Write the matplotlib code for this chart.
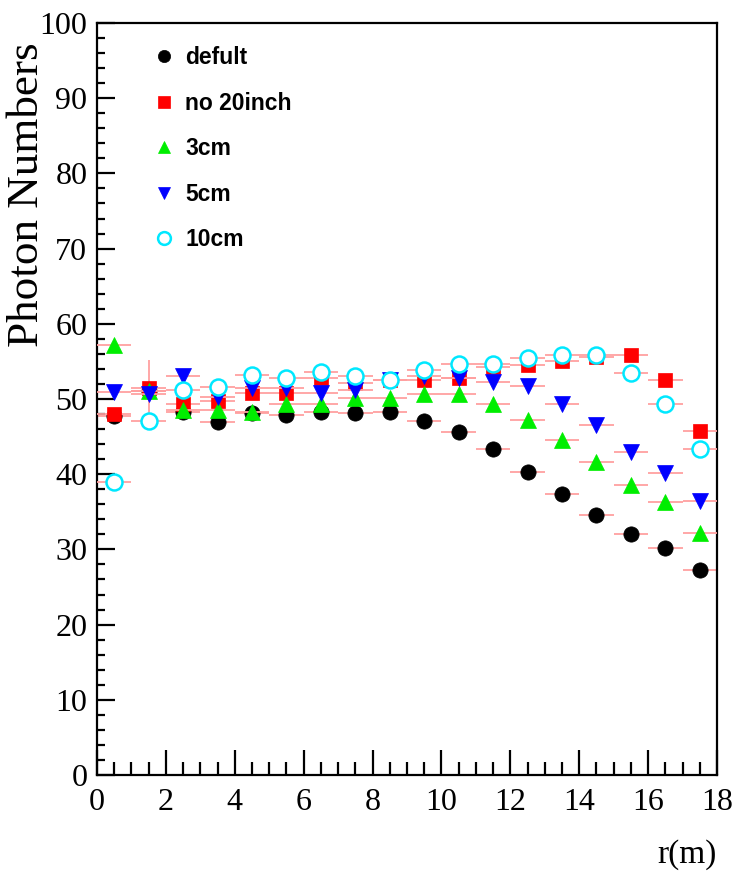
import numpy as np
import matplotlib
matplotlib.use("Agg")
import matplotlib.pyplot as plt
from matplotlib.ticker import MultipleLocator

# radius bins (m)
r = np.arange(0.5, 18, 1.0)
r_err = 0.5

labels = ["defult", "no 20inch", "3cm", "5cm", "10cm"]

defult   = [47.7, 51.0, 48.3, 47.0, 48.2, 47.9, 48.3, 48.1, 48.3, 47.1, 45.6, 43.4, 40.3, 37.4, 34.6, 32.1, 30.2, 27.2]
no20inch = [48.0, 51.4, 49.4, 49.7, 50.8, 50.8, 52.8, 52.1, 52.5, 52.5, 52.8, 54.3, 54.5, 55.0, 55.6, 55.8, 52.5, 45.7]
cm3      = [57.2, 51.0, 48.6, 48.6, 48.3, 49.4, 49.4, 50.1, 50.1, 50.6, 50.6, 49.4, 47.2, 44.5, 41.6, 38.5, 36.3, 32.2]
cm5      = [50.9, 50.6, 53.0, 50.3, 51.4, 51.4, 50.8, 51.2, 52.5, 53.0, 52.8, 52.2, 51.7, 49.3, 46.6, 42.9, 40.2, 36.4]
cm10     = [39.0, 47.1, 51.2, 51.6, 53.2, 52.8, 53.6, 53.0, 52.5, 53.9, 54.7, 54.7, 55.5, 55.8, 55.9, 53.4, 49.4, 43.4]

# vertical errors (only one is big enough to show)
defult_err = [0, 4.2, 0, 0, 0, 0, 0, 0, 0, 0, 0, 0, 0, 0, 0, 0, 0, 0]

series = [defult, no20inch, cm3, cm5, cm10]
yerrs = [defult_err, None, None, None, None]
colors = ["black", "#ff0000", "#00ee00", "#0000ff", "#00e8ff"]
markers = ["o", "s", "^", "v", "o"]
msizes = [11, 10, 11, 11, 11.5]
filled = [True, True, True, True, False]

fig = plt.figure(figsize=(7.35, 8.74), dpi=100)
ax = fig.add_axes([97/735, 1-775/874, 620/735, 752/874])

handles = []
for i in range(len(series)):
    ax.errorbar(r, series[i], xerr=r_err, yerr=yerrs[i], fmt="none",
                ecolor="#ffa0a0", elinewidth=1.3, capsize=0, zorder=2+2*i)
    h, = ax.plot(r, series[i], linestyle="none", marker=markers[i],
                 markersize=msizes[i], color=colors[i],
                 markerfacecolor=colors[i] if filled[i] else "white",
                 markeredgewidth=1.8 if not filled[i] else 0.5,
                 label=labels[i], zorder=3+2*i)
    handles.append(h)

ax.set_xlim(0, 18)
ax.set_ylim(0, 100)
ax.xaxis.set_major_locator(MultipleLocator(2))
ax.xaxis.set_minor_locator(MultipleLocator(0.5))
ax.yaxis.set_major_locator(MultipleLocator(10))
ax.yaxis.set_minor_locator(MultipleLocator(2))

for s in ax.spines.values():
    s.set_linewidth(1.6)

ax.tick_params(axis="both", which="both", direction="in", top=False, right=False, width=1.6)
ax.tick_params(axis="x", which="major", length=18, pad=9)
ax.tick_params(axis="x", which="minor", length=9.5)
ax.tick_params(axis="y", which="major", length=13, pad=7)
ax.tick_params(axis="y", which="minor", length=6)
for lab in ax.get_xticklabels() + ax.get_yticklabels():
    lab.set_family("Liberation Serif")
    lab.set_fontsize(23)

fig.text(27/735, 1-42/874, "Photon Numbers", rotation=90, ha="center", va="top",
         family="Liberation Serif", fontsize=32.5)
fig.text(717/735, 1-855/874, "r(m)", ha="right", va="center",
         family="Liberation Serif", fontsize=24)

leg = ax.legend(handles=handles, loc="upper left", bbox_to_anchor=(0.089, 0.969),
                frameon=False, borderpad=0, borderaxespad=0, handlelength=1.0,
                handletextpad=0.45, labelspacing=0.98, markerscale=0.8,
                prop={"family": "Liberation Sans", "weight": "bold", "size": 16.5})

fig.savefig("out.png", dpi=100)
